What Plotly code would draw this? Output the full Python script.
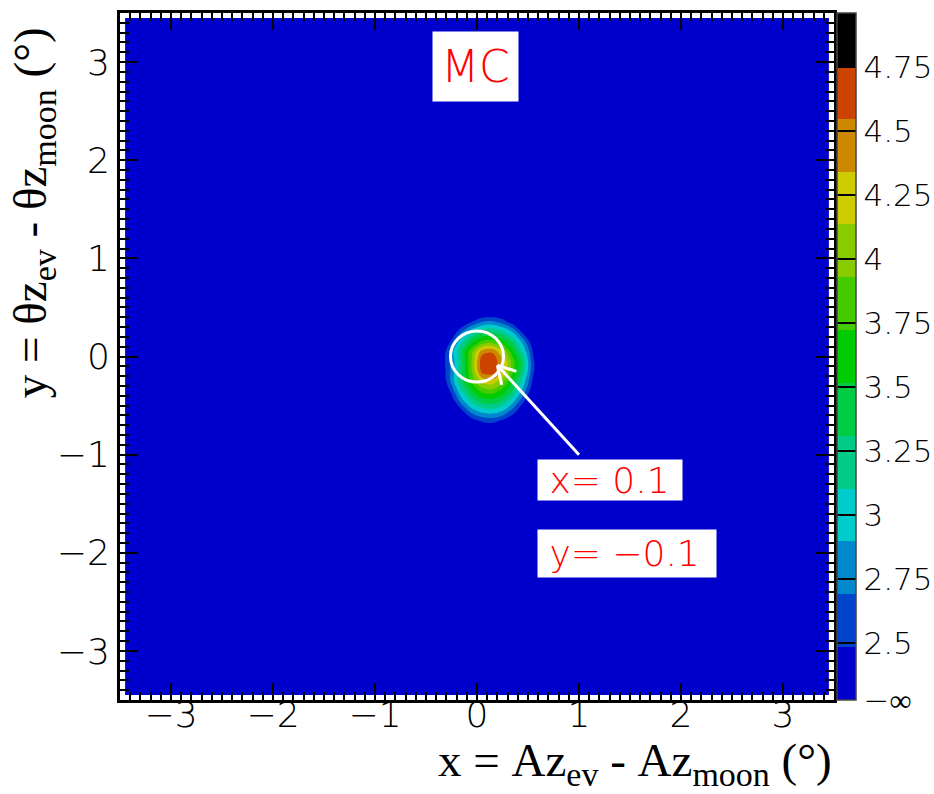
import numpy as np
import plotly.graph_objects as go

# ---- map binning: 70 x 70 bins of 0.1 deg over [-3.5, 3.5] ----
BIN_CENTRES = np.round(np.linspace(-3.45, 3.45, 70), 2)
BACKGROUND_LEVEL = 2.0

# ---- signal region (bin centres and bin contents) ----
BLOB_X = [-0.45, -0.35, -0.25, -0.15, -0.05, 0.05, 0.15, 0.25, 0.35, 0.45, 0.55, 0.65, 0.75]
BLOB_Y = [0.45, 0.35, 0.25, 0.15, 0.05, -0.05, -0.15, -0.25, -0.35, -0.45, -0.55, -0.65, -0.75]
BLOB_Z = [
    [2.00, 2.00, 2.00, 2.00, 2.12, 2.21, 2.23, 2.17, 2.05, 2.00, 2.00, 2.00, 2.00],
    [2.00, 2.00, 2.05, 2.27, 2.50, 2.71, 2.75, 2.61, 2.38, 2.15, 2.00, 2.00, 2.00],
    [2.00, 2.00, 2.27, 2.68, 3.05, 3.27, 3.30, 3.16, 2.88, 2.43, 2.12, 2.00, 2.00],
    [2.00, 2.13, 2.53, 3.08, 3.48, 3.77, 3.82, 3.62, 3.28, 2.83, 2.30, 2.00, 2.00],
    [2.00, 2.24, 2.80, 3.34, 3.90, 4.46, 4.52, 4.15, 3.58, 3.07, 2.46, 2.08, 2.00],
    [2.00, 2.33, 2.74, 3.29, 3.95, 4.70, 4.72, 4.38, 3.82, 3.28, 2.52, 2.20, 2.00],
    [2.00, 2.30, 2.74, 3.30, 3.93, 4.64, 4.68, 4.33, 3.78, 3.22, 2.52, 2.16, 2.00],
    [2.00, 2.23, 2.76, 3.31, 3.79, 4.20, 4.28, 4.00, 3.52, 3.03, 2.44, 2.06, 2.00],
    [2.00, 2.14, 2.55, 3.10, 3.49, 3.80, 3.86, 3.64, 3.30, 2.84, 2.31, 2.00, 2.00],
    [2.00, 2.04, 2.34, 2.82, 3.19, 3.40, 3.44, 3.30, 2.99, 2.54, 2.18, 2.00, 2.00],
    [2.00, 2.00, 2.16, 2.45, 2.82, 3.00, 3.04, 2.92, 2.62, 2.29, 2.04, 2.00, 2.00],
    [2.00, 2.00, 2.00, 2.20, 2.39, 2.54, 2.58, 2.46, 2.28, 2.09, 2.00, 2.00, 2.00],
    [2.00, 2.00, 2.00, 2.00, 2.12, 2.21, 2.22, 2.17, 2.06, 2.00, 2.00, 2.00, 2.00],
]

# ---- fitted position and moon disk ----
PEAK_X = 0.1
PEAK_Y = -0.1
MOON_X, MOON_Y, MOON_R = 0.0, 0.0, 0.26
ARROW_TAIL = (1.0, -1.0)
ARROW_TIP = (0.2, -0.09)

# ---- colour scale: 13 equal bands ----
Z_MIN, Z_MAX = 2.276, 4.961
BAND_COLOURS = ["#0000cc", "#0044cc", "#0088cc", "#00cccc", "#00cc88", "#00cc44",
                "#00cc00", "#44cc00", "#88cc00", "#cccc00", "#cc8800", "#cc4400", "#000000"]
CB_TICKS = [Z_MIN, 2.5, 2.75, 3.0, 3.25, 3.5, 3.75, 4.0, 4.25, 4.5, 4.75]
CB_LABELS = ["\u2212\u221e", "2.5", "2.75", "3", "3.25", "3.5", "3.75", "4", "4.25", "4.5", "4.75"]

# build the full map
z = np.full((BIN_CENTRES.size, BIN_CENTRES.size), BACKGROUND_LEVEL)
for j, yv in enumerate(BLOB_Y):
    iy = int(np.argmin(np.abs(BIN_CENTRES - yv)))
    for i, xv in enumerate(BLOB_X):
        ix = int(np.argmin(np.abs(BIN_CENTRES - xv)))
        z[iy, ix] = BLOB_Z[j][i]

n_bands = len(BAND_COLOURS)
step = (Z_MAX - Z_MIN) / n_bands
colorscale = [[k / (n_bands - 1), c] for k, c in enumerate(BAND_COLOURS)]

W, H = 934, 794
ML, MR, MT, MB = 120, 100, 13, 94
PW, PH = W - ML - MR, H - MT - MB

TICK_FONT = dict(family="DejaVu Sans", size=36, color="black", weight=200)
TITLE_FONT = dict(family="Liberation Serif", size=47, color="black")
SUB = '<sub><span style="font-size:34px">%s</span></sub>'
NB = "\u00a0"

fig = go.Figure()
fig.add_trace(go.Contour(
    x=BIN_CENTRES, y=BIN_CENTRES, z=z,
    zauto=False, zmin=Z_MIN, zmax=Z_MAX,
    autocontour=False,
    contours=dict(start=Z_MIN + step, end=Z_MAX - step, size=step,
                  coloring="fill", showlines=False),
    line=dict(width=0, smoothing=1.0),
    colorscale=colorscale,
    colorbar=dict(
        x=(837 - ML) / PW, xanchor="left", xpad=0, ypad=0,
        y=0.5, yanchor="middle", len=1, lenmode="fraction", thickness=19,
        outlinewidth=1.5, outlinecolor="#444",
        tickmode="array", tickvals=CB_TICKS, ticktext=CB_LABELS,
        ticks="inside", ticklen=19, tickwidth=1.5, tickcolor="black",
        tickfont=dict(family="DejaVu Sans", size=31, color="black", weight=200),
    ),
    hoverinfo="skip",
))

# moon disk
fig.add_shape(type="circle", xref="x", yref="y",
              x0=MOON_X - MOON_R, x1=MOON_X + MOON_R,
              y0=MOON_Y - MOON_R, y1=MOON_Y + MOON_R,
              line=dict(color="white", width=3))

# arrow: shaft plus two open head strokes
px_x, px_y = PW / 7.0, PH / 7.0
dx_px = (ARROW_TAIL[0] - ARROW_TIP[0]) * px_x
dy_px = -(ARROW_TAIL[1] - ARROW_TIP[1]) * px_y
norm = np.hypot(dx_px, dy_px)
ux, uy = dx_px / norm, dy_px / norm
fig.add_shape(type="line", xref="x", yref="y",
              x0=ARROW_TAIL[0], y0=ARROW_TAIL[1], x1=ARROW_TIP[0], y1=ARROW_TIP[1],
              line=dict(color="white", width=3))
for ang in (np.radians(30), -np.radians(30)):
    rx = ux * np.cos(ang) - uy * np.sin(ang)
    ry = ux * np.sin(ang) + uy * np.cos(ang)
    fig.add_shape(type="line", xref="x", yref="y",
                  x0=ARROW_TIP[0], y0=ARROW_TIP[1],
                  x1=ARROW_TIP[0] + 20 * rx / px_x, y1=ARROW_TIP[1] - 20 * ry / px_y,
                  line=dict(color="white", width=3))

LABEL_FONT = dict(family="DejaVu Sans", size=36, color="red", weight=200)
fig.add_annotation(x=-0.01, y=2.95, xref="x", yref="y", text="MC", showarrow=False,
                   bgcolor="white", borderpad=0, width=85, height=69,
                   font=dict(family="DejaVu Sans", size=44, color="red", weight=200))
fig.add_annotation(x=0.588, y=-1.26, xref="x", yref="y", xanchor="left",
                   text=NB + "x= %g" % PEAK_X, showarrow=False, align="left",
                   bgcolor="white", borderpad=0, width=144, height=40, font=LABEL_FONT)
fig.add_annotation(x=0.588, y=-2.006, xref="x", yref="y", xanchor="left",
                   text=NB + "y= %s" % ("%g" % PEAK_Y).replace("-", "\u2212"),
                   showarrow=False, align="left",
                   bgcolor="white", borderpad=0, width=178, height=47, font=LABEL_FONT)

# axis titles
fig.add_annotation(x=1.0, y=-0.093, xref="paper", yref="paper", xanchor="right", yanchor="middle",
                   text="x" + NB + "=" + NB + "Az" + SUB % "ev" + NB + "-" + NB + "Az" + SUB % "moon"
                        + NB + "(\u00b0)",
                   showarrow=False, font=TITLE_FONT)
fig.add_annotation(x=-0.12, y=0.982, xref="paper", yref="paper", xanchor="center", yanchor="top",
                   textangle=-90,
                   text="y" + NB + "=" + NB + "\u03b8z" + SUB % "ev" + NB + "-" + NB + "\u03b8z"
                        + SUB % "moon" + NB + "(\u00b0)",
                   showarrow=False, font=TITLE_FONT)

axis_common = dict(range=[-3.5, 3.5], tickmode="linear", tick0=0, dtick=1,
                   showgrid=False, zeroline=False, showline=True, linewidth=3,
                   linecolor="black", mirror="ticks", ticks="inside", tickwidth=2,
                   tickcolor="black", tickfont=TICK_FONT)
fig.update_xaxes(**axis_common, ticklen=17, ticklabelstandoff=-19,
                 minor=dict(dtick=0.1, tick0=0, ticks="inside", ticklen=8, tickwidth=1.5,
                            tickcolor="black", showgrid=False))
fig.update_yaxes(**axis_common, ticklen=18,
                 minor=dict(dtick=0.1, tick0=0, ticks="inside", ticklen=9, tickwidth=1.5,
                            tickcolor="black", showgrid=False))

fig.update_layout(width=W, height=H,
                  margin=dict(l=ML, r=MR, t=MT, b=MB, autoexpand=False),
                  paper_bgcolor="white", plot_bgcolor="white", showlegend=False)

fig.write_html("out.html")
